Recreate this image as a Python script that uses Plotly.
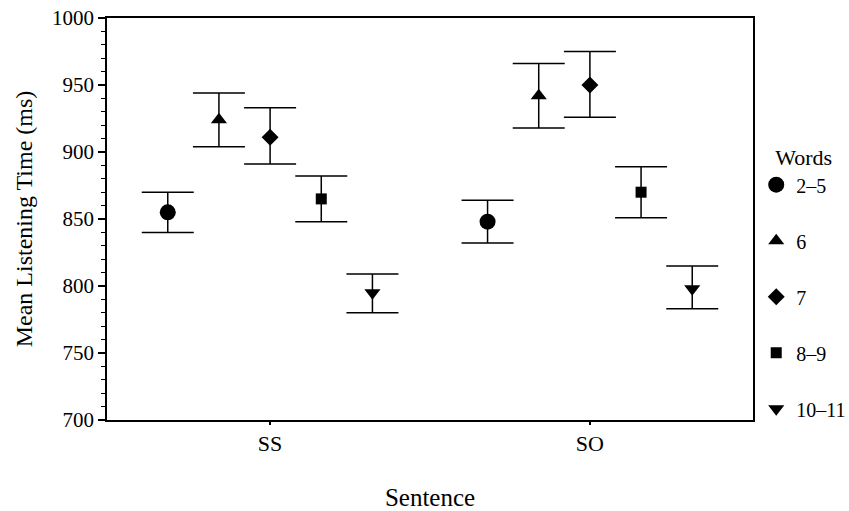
import plotly.graph_objects as go

sentences = ["SS", "SO"]
word_groups = ["2–5", "6", "7", "8–9", "10–11"]
means = {
    "2–5":   [855, 848],
    "6":     [924, 942],
    "7":     [911, 950],
    "8–9":   [865, 870],
    "10–11": [795, 798],
}
upper = {
    "2–5":   [870, 864],
    "6":     [944, 966],
    "7":     [933, 975],
    "8–9":   [882, 889],
    "10–11": [809, 815],
}
lower = {
    "2–5":   [840, 832],
    "6":     [904, 918],
    "7":     [891, 926],
    "8–9":   [848, 851],
    "10–11": [780, 783],
}
y_ticks = [700, 750, 800, 850, 900, 950, 1000]

symbols = {"2–5": "circle", "6": "triangle-up", "7": "diamond", "8–9": "square", "10–11": "triangle-down"}
sizes = {"2–5": 16, "6": 14, "7": 13, "8–9": 11, "10–11": 14}

FONT = "Liberation Serif"
fig = go.Figure()
for g in word_groups:
    m = means[g]
    fig.add_trace(go.Scatter(
        x=sentences, y=m, mode="markers", name=g, legendgroup=g,
        marker=dict(symbol=symbols[g], size=sizes[g], color="black"),
        error_y=dict(type="data", symmetric=False,
                     array=[u - v for u, v in zip(upper[g], m)],
                     arrayminus=[v - l for l, v in zip(lower[g], m)],
                     color="black", thickness=1.5, width=26),
    ))

fig.update_layout(
    width=849, height=511,
    margin=dict(l=107, r=96, t=18, b=91, autoexpand=False),
    paper_bgcolor="white", plot_bgcolor="white",
    font=dict(family=FONT, size=21, color="black"),
    scattermode="group", scattergap=0.2,
    showlegend=True,
    legend=dict(title=dict(text="Words", side="top center", font=dict(size=22)),
                x=1.005, xanchor="left", y=0.705, yanchor="top",
                traceorder="grouped", tracegroupgap=27,
                font=dict(size=20), bgcolor="rgba(0,0,0,0)"),
)
fig.update_xaxes(
    type="category", range=[-0.51, 1.51], automargin=False,
    showline=True, linecolor="black", linewidth=1.5, mirror=True,
    ticks="outside", ticklen=3, tickwidth=1.5, tickcolor="black",
    showgrid=False, zeroline=False, ticklabeloverflow="allow",
    title=dict(text="Sentence", font=dict(size=25), standoff=35),
    tickfont=dict(size=22),
)
fig.update_yaxes(
    range=[700, 1000], tickvals=y_ticks, automargin=False,
    showline=True, linecolor="black", linewidth=1.5, mirror=True,
    ticks="outside", ticklen=7, tickwidth=1.5, tickcolor="black",
    minor=dict(dtick=10, ticks="outside", ticklen=4, tickwidth=1, tickcolor="black"),
    showgrid=False, zeroline=False, ticklabeloverflow="allow",
    title=dict(text="Mean Listening Time (ms)", font=dict(size=24), standoff=13),
    tickfont=dict(size=21),
)
fig.write_html("out.html", config={"displayModeBar": False},
               post_script="document.body.style.margin='0';document.body.style.overflow='hidden';")
